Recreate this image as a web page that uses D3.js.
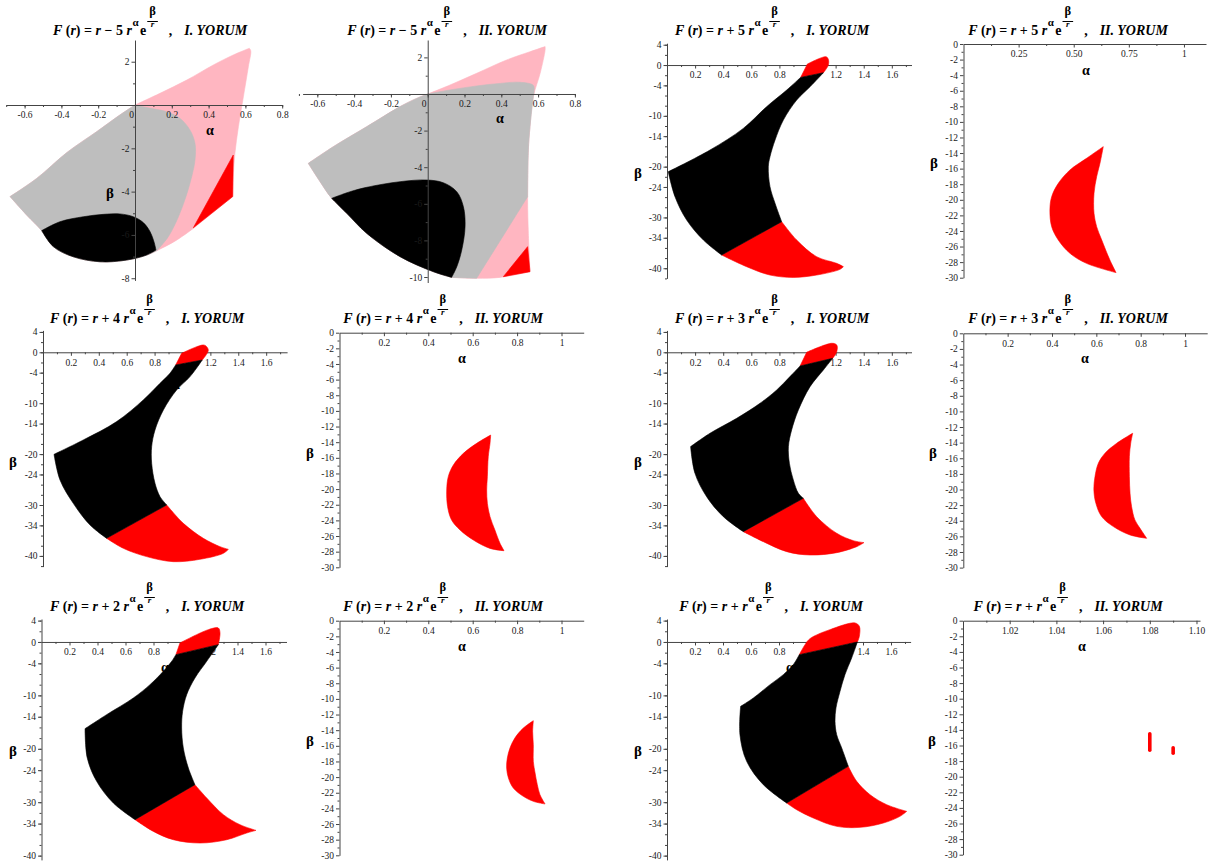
<!DOCTYPE html>
<html>
<head>
<meta charset="utf-8">
<script src="https://cdn.jsdelivr.net/npm/d3@7"></script>
<style>
  body { margin: 0; background: #ffffff; }
  svg { display: block; }
</style>
</head>
<body>
<svg id="chart" width="1219" height="868"></svg>
<script>
// ---------- titles ----------
const coefficients = [" − 5 ", " − 5 ", " + 5 ", " + 5 ", " + 4 ", " + 4 ",
                      " + 3 ", " + 3 ", " + 2 ", " + 2 ", " + ", " + "];
const yorumLabels = ["I. YORUM", "II. YORUM", "I. YORUM", "II. YORUM",
                     "I. YORUM", "II. YORUM", "I. YORUM", "II. YORUM",
                     "I. YORUM", "II. YORUM", "I. YORUM", "II. YORUM"];

// ---------- tick labels ----------
const xLabelsMinus = ["-0.6", "-0.4", "-0.2", "0", "0.2", "0.4", "0.6", "0.8"];
const yLabelsMinus1 = ["2", "-2", "-4", "-6", "-8"];
const yLabelsMinus2 = ["2", "-2", "-4", "-6", "-8", "-10"];
const xLabelsPlusI = ["0.2", "0.4", "0.6", "0.8", "1", "1.2", "1.4", "1.6"];
const yLabelsPlusI = ["4", "0", "-4", "-10", "-14", "-20", "-24", "-30", "-34", "-40"];
const xLabelsFive = ["0.25", "0.50", "0.75", "1"];
const xLabelsII = ["0.2", "0.4", "0.6", "0.8", "1"];
const xLabelsLast = ["1.02", "1.04", "1.06", "1.08", "1.10"];
const yLabelsII = ["0", "-2", "-4", "-6", "-8", "-10", "-12", "-14", "-16", "-18", "-20",
                   "-22", "-24", "-26", "-28", "-30"];

// ---------- regions ----------
// Each region is a closed outline made of edges; an edge is a list of [alpha, beta]
// points, drawn smooth when it has more than two points and straight otherwise.

// F(r) = r - 5 r^a e^(b/r), I. YORUM
const p1Pink = [
  [[0,0],[0.136,0.54],[0.281,1.15],[0.426,1.85],[0.534,2.31],[0.621,2.62]],
  [[0.621,2.62],[0.629,2.51],[0.616,1.77],[0.589,0.38],[0.562,-1.0],[0.543,-2.23],[0.534,-3.31],[0.531,-4.23]],
  [[0.531,-4.23],[0.317,-5.70]],
  [[0.317,-5.70],[0.226,-6.24],[0.118,-6.73],[0.063,-6.93],[-0.045,-7.16],[-0.190,-7.24],[-0.335,-7.01],
   [-0.444,-6.54],[-0.507,-5.80],[-0.589,-5.08],[-0.679,-4.23]],
  [[-0.679,-4.23],[-0.534,-3.39],[-0.371,-2.20],[-0.208,-1.23],[-0.082,-0.46],[0,0]]
];
const p1Gray = [
  [[0,0],[0.082,-0.15],[0.172,-0.31],[0.245,-0.62],[0.299,-1.16],[0.326,-1.77],[0.326,-2.54],[0.308,-3.31],
   [0.277,-4.23],[0.236,-5.16],[0.181,-6.08],[0.118,-6.73]],
  [[0.118,-6.73],[0.063,-6.93],[-0.045,-7.16],[-0.190,-7.24],[-0.335,-7.01],[-0.444,-6.54],[-0.507,-5.80],
   [-0.589,-5.08],[-0.679,-4.23]],
  [[-0.679,-4.23],[-0.534,-3.39],[-0.371,-2.20],[-0.208,-1.23],[-0.082,-0.46],[0,0]]
];
const p1Black = [
  [[-0.507,-5.80],[-0.408,-5.39],[-0.281,-5.16],[-0.172,-5.05],[-0.082,-5.03],[-0.009,-5.16],[0.045,-5.43],
   [0.082,-5.85],[0.103,-6.31],[0.114,-6.70]],
  [[0.114,-6.70],[0.063,-6.93],[-0.045,-7.16],[-0.190,-7.24],[-0.335,-7.01],[-0.444,-6.54],[-0.507,-5.80]]
];
const p1Red = [[[0.534,-2.31],[0.531,-4.23]], [[0.531,-4.23],[0.317,-5.67]], [[0.317,-5.67],[0.534,-2.31]]];

// F(r) = r - 5 r^a e^(b/r), II. YORUM
const p2Pink = [
  [[0,0],[0.121,0.49],[0.266,1.13],[0.429,1.86],[0.556,2.31],[0.638,2.59]],
  [[0.638,2.59],[0.638,2.40],[0.611,1.13],[0.574,-0.15],[0.556,-1.79],[0.547,-3.06],[0.543,-5.79],
   [0.547,-7.61],[0.556,-9.71]],
  [[0.556,-9.71],[0.393,-10.02],[0.266,-10.07],[0.130,-10.02]],
  [[0.130,-10.02],[0.031,-9.71],[-0.150,-8.89],[-0.332,-7.61],[-0.440,-6.52],[-0.522,-5.70],[-0.585,-4.79],
   [-0.649,-3.79]],
  [[-0.649,-3.79],[-0.513,-2.88],[-0.332,-1.79],[-0.150,-0.69],[-0.060,-0.24],[0,0]]
];
const p2Gray = [
  [[0,0],[0.121,0.22],[0.266,0.44],[0.393,0.58],[0.502,0.64],[0.574,0.47],[0.578,0.13],[0.574,-0.15],
   [0.556,-1.79],[0.547,-3.06],[0.543,-5.61]],
  [[0.543,-5.61],[0.266,-10.07]],
  [[0.266,-10.07],[0.130,-10.02]],
  [[0.130,-10.02],[0.031,-9.71],[-0.150,-8.89],[-0.332,-7.61],[-0.440,-6.52],[-0.522,-5.70],[-0.585,-4.79],
   [-0.649,-3.79]],
  [[-0.649,-3.79],[-0.513,-2.88],[-0.332,-1.79],[-0.150,-0.69],[-0.060,-0.24],[0,0]]
];
const p2Black = [
  [[-0.522,-5.70],[-0.422,-5.34],[-0.332,-5.10],[-0.150,-4.79],[-0.005,-4.70],[0.085,-4.85],[0.158,-5.34],
   [0.194,-6.16],[0.203,-7.25],[0.185,-8.52],[0.158,-9.44],[0.130,-10.02]],
  [[0.130,-10.02],[0.031,-9.71],[-0.150,-8.89],[-0.332,-7.61],[-0.440,-6.52],[-0.522,-5.70]]
];
const p2Red = [[[0.543,-8.34],[0.556,-9.71]], [[0.556,-9.71],[0.411,-9.98]], [[0.411,-9.98],[0.543,-8.34]]];

// F(r) = r + 5 r^a e^(b/r)
const p3RedTop = [
  [[0.951,-2.43],[0.999,0.20]],
  [[0.999,0.20],[1.132,1.64],[1.148,1.12],[1.148,0.0],[1.113,-1.51]],
  [[1.113,-1.51],[0.951,-2.43]]
];
const p3Black = [
  [[0.951,-2.43],[1.113,-1.51]],
  [[1.113,-1.51],[1.018,-4.27],[0.923,-6.89],[0.828,-10.83],[0.769,-14.76],[0.733,-18.04],[0.721,-20.01],
   [0.733,-23.95],[0.769,-27.23],[0.816,-30.84]],
  [[0.816,-30.84],[0.389,-37.40]],
  [[0.389,-37.40],[0.259,-34.45],[0.140,-30.51],[0.057,-25.92],[0.009,-21.0]],
  [[0.009,-21.0],[0.306,-16.73],[0.543,-12.47],[0.709,-8.20],[0.852,-4.92],[0.951,-2.43]]
];
const p3RedBottom = [
  [[0.389,-37.40],[0.816,-30.84]],
  [[0.816,-30.84],[0.923,-34.45],[1.065,-37.73],[1.208,-39.04],[1.255,-39.70]],
  [[1.255,-39.70],[1.231,-40.22],[1.065,-41.34],[0.899,-41.80],[0.733,-41.34],[0.567,-39.70],[0.389,-37.40]]
];
const p4Red = [
  [[0.634,-13.18],[0.558,-14.68],[0.483,-16.17],[0.430,-17.89],[0.400,-19.60],[0.392,-21.31],[0.400,-23.45],
   [0.430,-25.16],[0.483,-26.87],[0.558,-28.16],[0.692,-29.35]],
  [[0.692,-29.35],[0.664,-27.73],[0.627,-25.16],[0.604,-23.45],[0.592,-21.74],[0.592,-19.17],[0.604,-17.03],
   [0.619,-15.32],[0.634,-13.18]]
];

// F(r) = r + 4 r^a e^(b/r)
const p5RedTop = [
  [[0.951,-2.49],[0.994,-0.20]],
  [[0.994,-0.20],[1.149,1.44],[1.173,1.11],[1.185,0.33],[1.142,-1.51]],
  [[1.142,-1.51],[0.951,-2.49]]
];
const p5Black = [
  [[0.951,-2.49],[1.142,-1.51]],
  [[1.142,-1.51],[1.054,-4.78],[0.958,-7.40],[0.863,-11.33],[0.803,-15.26],[0.779,-18.53],[0.779,-21.81],
   [0.803,-25.74],[0.839,-28.36],[0.887,-29.99]],
  [[0.887,-29.99],[0.456,-36.54]],
  [[0.456,-36.54],[0.337,-33.92],[0.217,-29.67],[0.122,-25.08],[0.079,-20.04]],
  [[0.079,-20.04],[0.289,-17.22],[0.528,-13.62],[0.719,-9.36],[0.839,-6.09],[0.910,-4.13],[0.951,-2.49]]
];
const p5RedBottom = [
  [[0.456,-36.54],[0.887,-29.99]],
  [[0.887,-29.99],[1.006,-33.60],[1.149,-36.54],[1.269,-38.18],[1.329,-38.70]],
  [[1.329,-38.70],[1.293,-39.49],[1.125,-40.67],[0.934,-41.13],[0.743,-40.14],[0.576,-38.51],[0.456,-36.54]]
];
const p6Red = [
  [[0.681,-13.09],[0.618,-14.15],[0.558,-15.43],[0.513,-16.92],[0.490,-18.41],[0.483,-20.12],[0.487,-22.25],
   [0.505,-23.96],[0.543,-25.23],[0.603,-26.51],[0.678,-27.58],[0.741,-27.88]],
  [[0.741,-27.88],[0.723,-26.94],[0.700,-25.23],[0.678,-23.53],[0.666,-21.82],[0.663,-20.12],[0.666,-18.41],
   [0.670,-15.86],[0.678,-14.15],[0.681,-13.09]]
];

// F(r) = r + 3 r^a e^(b/r)
const p7RedTop = [
  [[0.947,-2.69],[0.994,0.0]],
  [[0.994,0.0],[1.172,1.77],[1.208,1.44],[1.208,0.13],[1.179,-1.18]],
  [[1.179,-1.18],[0.947,-2.69]]
];
const p7Black = [
  [[0.947,-2.69],[1.179,-1.18]],
  [[1.179,-1.18],[1.113,-3.47],[1.018,-6.75],[0.935,-11.33],[0.887,-15.26],[0.864,-18.53],[0.871,-21.81],
   [0.899,-25.08],[0.935,-27.70],[0.970,-28.68]],
  [[0.970,-28.68],[0.543,-35.23]],
  [[0.543,-35.23],[0.401,-32.29],[0.282,-28.36],[0.199,-23.77],[0.168,-18.53]],
  [[0.168,-18.53],[0.306,-15.91],[0.496,-12.97],[0.662,-10.02],[0.781,-7.40],[0.875,-4.78],[0.947,-2.69]]
];
const p7RedBottom = [
  [[0.543,-35.23],[0.970,-28.68]],
  [[0.970,-28.68],[1.065,-32.29],[1.208,-35.56],[1.326,-37.00],[1.402,-37.39]],
  [[1.402,-37.39],[1.350,-38.18],[1.208,-39.36],[1.018,-39.82],[0.852,-39.16],[0.686,-37.20],[0.543,-35.23]]
];
const p8Red = [
  [[0.764,-12.80],[0.692,-14.08],[0.639,-15.36],[0.609,-16.65],[0.594,-18.35],[0.589,-20.06],[0.598,-21.77],
   [0.624,-23.47],[0.677,-24.75],[0.752,-25.82],[0.827,-26.25]],
  [[0.827,-26.25],[0.797,-24.97],[0.774,-23.90],[0.759,-22.19],[0.752,-20.49],[0.749,-18.35],[0.749,-15.79],
   [0.755,-14.08],[0.764,-12.80]]
];

// F(r) = r + 2 r^a e^(b/r)
const p9RedTop = [
  [[0.960,-2.37],[0.989,-0.19]],
  [[0.989,-0.19],[1.192,2.31],[1.263,2.62],[1.275,1.69],[1.263,-0.50]],
  [[1.263,-0.50],[0.960,-2.37]]
];
const p9Black = [
  [[0.960,-2.37],[1.263,-0.50]],
  [[1.263,-0.50],[1.180,-3.62],[1.096,-6.74],[1.037,-9.86],[1.008,-12.98],[1.001,-16.10],[1.013,-19.85],
   [1.049,-23.60],[1.096,-26.72]],
  [[1.096,-26.72],[0.668,-33.27]],
  [[0.668,-33.27],[0.513,-30.15],[0.394,-26.09],[0.327,-21.72],[0.311,-16.23]],
  [[0.311,-16.23],[0.465,-13.61],[0.656,-10.49],[0.775,-7.99],[0.870,-5.49],[0.930,-3.62],[0.960,-2.37]]
];
const p9RedBottom = [
  [[0.668,-33.27],[1.096,-26.72]],
  [[1.096,-26.72],[1.180,-29.21],[1.299,-32.33],[1.418,-34.21],[1.532,-35.27]],
  [[1.532,-35.27],[1.465,-35.77],[1.323,-37.02],[1.132,-37.64],[0.942,-37.02],[0.799,-35.46],[0.668,-33.27]]
];
const p10Red = [
  [[0.873,-12.79],[0.828,-13.73],[0.790,-15.00],[0.768,-16.28],[0.756,-17.56],[0.753,-18.84],[0.761,-20.12],
   [0.783,-21.40],[0.828,-22.46],[0.873,-23.10],[0.926,-23.44]],
  [[0.926,-23.44],[0.903,-22.25],[0.891,-20.97],[0.881,-19.48],[0.873,-17.99],[0.873,-15.86],[0.870,-14.15],
   [0.873,-12.79]]
];

// F(r) = r + r^a e^(b/r)
const p11RedTop = [
  [[0.945,-2.37],[0.986,-0.50],[1.021,0.62],[1.164,2.31],[1.343,3.56],[1.374,2.93],[1.374,1.06],[1.360,0.0]],
  [[1.360,0.0],[0.945,-2.37]]
];
const p11Black = [
  [[0.945,-2.37],[1.360,0.0]],
  [[1.360,0.0],[1.319,-3.00],[1.271,-6.12],[1.236,-9.24],[1.207,-12.36],[1.200,-14.86],[1.212,-17.35],
   [1.248,-19.85],[1.295,-23.28]],
  [[1.295,-23.28],[0.855,-30.15]],
  [[0.855,-30.15],[0.688,-26.72],[0.569,-22.35],[0.521,-17.35],[0.526,-12.05]],
  [[0.526,-12.05],[0.617,-10.49],[0.736,-7.99],[0.831,-6.12],[0.902,-4.24],[0.945,-2.37]]
];
const p11RedBottom = [
  [[0.855,-30.15],[1.295,-23.28]],
  [[1.295,-23.28],[1.355,-26.09],[1.450,-28.59],[1.569,-30.46],[1.712,-31.71]],
  [[1.712,-31.71],[1.664,-32.65],[1.545,-33.90],[1.379,-34.71],[1.212,-34.52],[1.045,-32.96],[0.926,-31.40],
   [0.855,-30.15]]
];
// isolated points of the last case: [alpha, beta from, beta to]
const p12Strips = [[1.08, -14.5, -16.6], [1.09, -16.3, -17.0]];

// ---------- drawing ----------
const fills = { pink: "#ffb6c1", gray: "#bebebe", black: "#000000", red: "#ff0000" };
const serif = "'Liberation Serif', 'Times New Roman', Times, serif";
const axisColor = "#444";

const minorX02 = d3.range(0.1, 1.75, 0.2);
const minorYPlus = d3.range(-42, 4.1, 2);
const minorYII = d3.range(-29, 0, 2);

const panels = [
  { xDom: [-0.7, 0.8], xR: [6.2, 282.2], yDom: [-8.1, 3], yR: [280.4, 40.05],
    xLab: xLabelsMinus, yLab: yLabelsMinus1, xMinor: d3.range(-0.7, 0.81, 0.1), yMinor: d3.range(-7, 3, 2),
    titleX: 150, titleY: 35, alphaAt: [210, 130], betaAt: [110, 193], axesOnTop: true,
    regions: [[p1Pink, "pink"], [p1Gray, "gray"], [p1Black, "black"], [p1Red, "red"]] },
  { xDom: [-0.68, 0.8], xR: [302.6, 574.9], yDom: [-10.3, 2.95], yR: [282.5, 40.0],
    xLab: xLabelsMinus, yLab: yLabelsMinus2, xMinor: d3.range(-0.7, 0.81, 0.1), yMinor: d3.range(-9, 3, 2),
    titleX: 447, titleY: 35, alphaAt: [500, 118], betaAt: [400, 205], axesOnTop: true,
    regions: [[p2Pink, "pink"], [p2Gray, "gray"], [p2Black, "black"], [p2Red, "red"]] },
  { xDom: [0, 1.74], xR: [667, 911.5], yDom: [-42, 4.3], yR: [278.4, 43.2],
    xLab: xLabelsPlusI, yLab: yLabelsPlusI, xMinor: minorX02, yMinor: minorYPlus,
    titleX: 772, titleY: 35, alphaAt: [792, 94], betaAt: [638, 173], axesOnTop: false,
    regions: [[p3RedTop, "red"], [p3RedBottom, "red"], [p3Black, "black"]] },
  { xDom: [0, 1.1], xR: [963.5, 1206], yDom: [-30, 0], yR: [277.7, 44],
    xLab: xLabelsFive, yLab: yLabelsII, xMinor: d3.range(0.125, 1.1, 0.25), yMinor: minorYII,
    titleX: 1068, titleY: 35, alphaAt: [1086, 70], betaAt: [934, 163], axesOnTop: false,
    regions: [[p4Red, "red"]] },
  { xDom: [0, 1.75], xR: [43, 287.1], yDom: [-42.1, 4.3], yR: [566.6, 330.4],
    xLab: xLabelsPlusI, yLab: yLabelsPlusI, xMinor: minorX02, yMinor: minorYPlus,
    titleX: 147, titleY: 323, alphaAt: [176, 384], betaAt: [13, 462], axesOnTop: false,
    regions: [[p5RedTop, "red"], [p5RedBottom, "red"], [p5Black, "black"]] },
  { xDom: [0, 1.1], xR: [339.5, 583.7], yDom: [-30, 0], yR: [567.3, 332.7],
    xLab: xLabelsII, yLab: yLabelsII, xMinor: d3.range(0.1, 1.1, 0.2), yMinor: minorYII,
    titleX: 443, titleY: 323, alphaAt: [462, 358], betaAt: [310, 453], axesOnTop: false,
    regions: [[p6Red, "red"]] },
  { xDom: [0, 1.74], xR: [667, 911.5], yDom: [-42.1, 4.3], yR: [566.6, 330.4],
    xLab: xLabelsPlusI, yLab: yLabelsPlusI, xMinor: minorX02, yMinor: minorYPlus,
    titleX: 772, titleY: 323, alphaAt: [800, 384], betaAt: [638, 462], axesOnTop: false,
    regions: [[p7RedTop, "red"], [p7RedBottom, "red"], [p7Black, "black"]] },
  { xDom: [0, 1.1], xR: [963.3, 1207.2], yDom: [-30, 0], yR: [567.6, 333.3],
    xLab: xLabelsII, yLab: yLabelsII, xMinor: d3.range(0.1, 1.1, 0.2), yMinor: minorYII,
    titleX: 1068, titleY: 323, alphaAt: [1085, 358], betaAt: [933, 453], axesOnTop: false,
    regions: [[p8Red, "red"]] },
  { xDom: [0, 1.75], xR: [41.5, 286.5], yDom: [-40.8, 4.3], yR: [859.9, 619.0],
    xLab: xLabelsPlusI, yLab: yLabelsPlusI, xMinor: minorX02, yMinor: d3.range(-40, 4.1, 2),
    titleX: 147, titleY: 611, alphaAt: [165, 667], betaAt: [13, 751], axesOnTop: false,
    regions: [[p9RedTop, "red"], [p9RedBottom, "red"], [p9Black, "black"]] },
  { xDom: [0, 1.1], xR: [339.5, 583.7], yDom: [-30, 0], yR: [855.3, 620.7],
    xLab: xLabelsII, yLab: yLabelsII, xMinor: d3.range(0.1, 1.1, 0.2), yMinor: minorYII,
    titleX: 443, titleY: 611, alphaAt: [462, 646], betaAt: [310, 741], axesOnTop: false,
    regions: [[p10Red, "red"]] },
  { xDom: [0, 1.74], xR: [667, 910.6], yDom: [-40.8, 4.3], yR: [859.9, 619.0],
    xLab: xLabelsPlusI, yLab: yLabelsPlusI, xMinor: minorX02, yMinor: d3.range(-40, 4.1, 2),
    titleX: 771, titleY: 611, alphaAt: [790, 667], betaAt: [638, 751], axesOnTop: false,
    regions: [[p11RedTop, "red"], [p11RedBottom, "red"], [p11Black, "black"]] },
  { xDom: [1.0, 1.1015], xR: [963, 1200], yDom: [-30, 0], yR: [854.7, 620.7],
    xLab: xLabelsLast, yLab: yLabelsII, xMinor: d3.range(1.01, 1.1, 0.02), yMinor: minorYII,
    titleX: 1068, titleY: 611, alphaAt: [1082, 646], betaAt: [932, 741], axesOnTop: false,
    regions: [], strips: p12Strips }
];

const svg = d3.select("#chart");

function styleAxis(sel) {
  sel.select(".domain").attr("stroke", axisColor).attr("stroke-width", 1);
  sel.selectAll(".tick line").attr("stroke", axisColor);
  sel.selectAll(".tick text")
    .attr("fill", "#1a1a1a")
    .style("font-family", serif)
    .style("font-size", "9.5px");
}

// outline of a region: smooth edges joined at sharp corners
function regionPath(edges, x, y) {
  const smooth = d3.line().x(d => x(d[0])).y(d => y(d[1])).curve(d3.curveCatmullRom.alpha(0.5));
  const straight = d3.line().x(d => x(d[0])).y(d => y(d[1]));
  return edges.map((e, k) => {
    const s = (e.length > 2 ? smooth : straight)(e);
    return k === 0 ? s : "L" + s.slice(1);
  }).join("") + "Z";
}

function drawTitle(parent, cx, by, coef, yorum) {
  const g = parent.append("g");
  const head = g.append("text").attr("x", 0).attr("y", by)
    .style("font-family", serif).style("font-size", "14px").style("font-weight", "bold")
    .style("white-space", "pre").attr("fill", "#000");
  const pieces = [["F", true], [" (", false], ["r", true], [") = ", false], ["r", true],
                  [coef, false], ["r", true]];
  pieces.forEach(([t, it]) => head.append("tspan").style("font-style", it ? "italic" : "normal").text(t));
  let cur = head.node().getComputedTextLength();
  const sup = g.append("text").attr("x", cur + 0.5).attr("y", by - 9)
    .style("font-family", serif).style("font-size", "11px").style("font-weight", "bold").text("α");
  cur += 0.5 + sup.node().getComputedTextLength();
  const e = g.append("text").attr("x", cur + 1.5).attr("y", by)
    .style("font-family", serif).style("font-size", "14px").style("font-weight", "bold").text("e");
  cur += 1.5 + e.node().getComputedTextLength();
  const fx = cur + 1;
  const num = g.append("text").attr("y", by - 20.5).attr("text-anchor", "middle")
    .style("font-family", serif).style("font-size", "12.5px").style("font-weight", "bold").text("β");
  const den = g.append("text").attr("y", by - 8).attr("text-anchor", "middle")
    .style("font-family", serif).style("font-size", "9px").style("font-weight", "bold")
    .style("font-style", "italic").text("r");
  const fw = Math.max(num.node().getComputedTextLength(), den.node().getComputedTextLength()) + 4;
  num.attr("x", fx + fw / 2);
  den.attr("x", fx + fw / 2);
  g.append("line").attr("x1", fx).attr("x2", fx + fw).attr("y1", by - 13.5).attr("y2", by - 13.5)
    .attr("stroke", "#000").attr("stroke-width", 1);
  cur = fx + fw;
  const comma = g.append("text").attr("x", cur + 11).attr("y", by)
    .style("font-family", serif).style("font-size", "14px").style("font-weight", "bold").text(",");
  cur += 11 + comma.node().getComputedTextLength();
  const lab = g.append("text").attr("x", cur + 12).attr("y", by)
    .style("font-family", serif).style("font-size", "14px").style("font-weight", "bold")
    .style("font-style", "italic").text(yorum);
  cur += 12 + lab.node().getComputedTextLength();
  g.attr("transform", `translate(${cx - cur / 2},0)`);
}

panels.forEach((p, i) => {
  const g = svg.append("g");
  const x = d3.scaleLinear().domain(p.xDom).range(p.xR);
  const y = d3.scaleLinear().domain(p.yDom).range(p.yR);
  const lowerLayer = g.append("g");
  const upperLayer = g.append("g");
  const axisLayer = p.axesOnTop ? upperLayer : lowerLayer;
  const regionLayer = p.axesOnTop ? lowerLayer : upperLayer;

  // axes crossing at the origin (or at the left edge when alpha starts above 0)
  const yAxisAlpha = Math.max(0, p.xDom[0]);
  const xVals = p.xLab.map(Number);
  const yVals = p.yLab.map(Number);

  const xMinorAxis = axisLayer.append("g").attr("transform", `translate(0,${y(0)})`)
    .call(d3.axisBottom(x).tickValues(p.xMinor).tickFormat("").tickSize(2).tickSizeOuter(0));
  xMinorAxis.select(".domain").remove();
  xMinorAxis.selectAll(".tick line").attr("stroke", axisColor);
  const yMinorAxis = axisLayer.append("g").attr("transform", `translate(${x(yAxisAlpha)},0)`)
    .call(d3.axisLeft(y).tickValues(p.yMinor).tickFormat("").tickSize(2).tickSizeOuter(0));
  yMinorAxis.select(".domain").remove();
  yMinorAxis.selectAll(".tick line").attr("stroke", axisColor);

  const xAxisG = axisLayer.append("g").attr("transform", `translate(0,${y(0)})`)
    .call(d3.axisBottom(x).tickValues(xVals)
      .tickFormat(d => p.xLab[xVals.indexOf(d)]).tickSize(3.5).tickSizeOuter(0).tickPadding(3));
  styleAxis(xAxisG);
  xAxisG.selectAll(".tick text").filter(d => d === 0).attr("dx", -4);

  const yAxisG = axisLayer.append("g").attr("transform", `translate(${x(yAxisAlpha)},0)`)
    .call(d3.axisLeft(y).tickValues(yVals)
      .tickFormat(d => p.yLab[yVals.indexOf(d)]).tickSize(3.5).tickSizeOuter(0).tickPadding(2));
  styleAxis(yAxisG);

  axisLayer.append("text").attr("x", p.alphaAt[0]).attr("y", p.alphaAt[1])
    .attr("text-anchor", "middle").attr("dominant-baseline", "central")
    .style("font-family", serif).style("font-size", "14px").style("font-weight", "bold")
    .text("α");
  axisLayer.append("text").attr("x", p.betaAt[0]).attr("y", p.betaAt[1])
    .attr("text-anchor", "middle").attr("dominant-baseline", "central")
    .style("font-family", serif).style("font-size", "15px").style("font-weight", "bold")
    .text("β");

  // feasible regions
  regionLayer.selectAll("path.region").data(p.regions).join("path")
    .attr("class", "region")
    .attr("d", d => regionPath(d[0], x, y))
    .attr("fill", d => fills[d[1]])
    .attr("stroke", d => fills[d[1]])
    .attr("stroke-width", 0.6)
    .attr("stroke-linejoin", "round");

  if (p.strips) {
    regionLayer.selectAll("line.strip").data(p.strips).join("line")
      .attr("class", "strip")
      .attr("x1", d => x(d[0])).attr("x2", d => x(d[0]))
      .attr("y1", d => y(d[1])).attr("y2", d => y(d[2]))
      .attr("stroke", fills.red).attr("stroke-width", 3.6).attr("stroke-linecap", "round");
  }

  drawTitle(g, p.titleX, p.titleY, coefficients[i], yorumLabels[i]);
});
</script>
</body>
</html>
